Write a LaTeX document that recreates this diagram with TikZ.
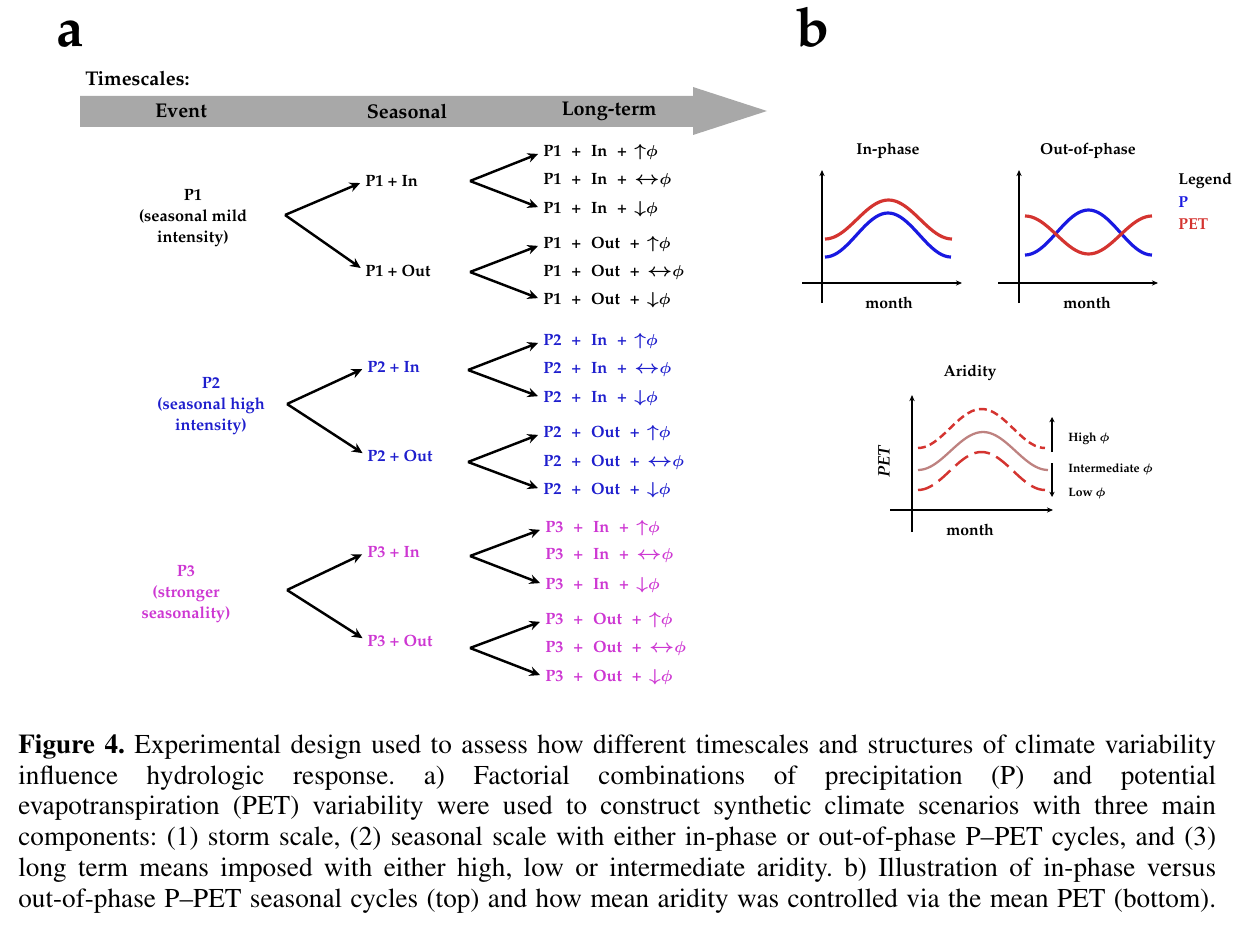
\documentclass[tikz,border=0pt]{standalone}
\usepackage[T1]{fontenc}
\usepackage{amsmath}
\usepackage{graphicx}
\renewcommand{\rmdefault}{ppl}
\usepackage{tikz}
\usetikzlibrary{positioning, arrows.meta}

\definecolor{pblue}{RGB}{30,30,205}
\definecolor{pmag}{RGB}{205,55,210}
\definecolor{petred}{RGB}{212,52,48}
\definecolor{precblue}{RGB}{25,25,225}
\definecolor{midrose}{RGB}{190,130,128}
\definecolor{bargray}{RGB}{168,168,168}

\newcommand{\phisym}{\boldsymbol{\phi}}
\newcommand{\upar}{\mathord{\scalebox{1.25}[1.1]{$\boldsymbol{\uparrow}$}}}
\newcommand{\dnar}{\mathord{\scalebox{1.25}[1.1]{$\boldsymbol{\downarrow}$}}}
\newcommand{\lrar}{\mathord{\scalebox{1.35}[1.15]{$\boldsymbol{\leftrightarrow}$}}}
\newcommand{\ltlab}[3]{#1\hspace{0.6em}+\hspace{0.6em}#2\hspace{0.6em}+\hspace{0.45em}$#3\phisym$}
\newcommand{\bell}[5]{\draw[#1] plot[smooth, domain=0:1, samples=41, variable=\t] ({#2+(#3-#2)*\t},{#4-#5*(1-cos(360*\t))/2});}
\newcommand{\capline}[1]{\hbox to 23.96cm{#1}}

\tikzset{
  panel/.style={font=\fontsize{31}{31}\selectfont\bfseries, inner sep=0pt, anchor=base},
  head/.style={font=\fontsize{11.3}{13}\selectfont\bfseries, inner sep=0pt},
  lab/.style={font=\fontsize{9.3}{12}\selectfont\bfseries, inner sep=0pt},
  event/.style={lab, align=center},
  season/.style={lab, anchor=west},
  longterm/.style={lab, anchor=west},
  branch/.style={-{Stealth[length=6pt,width=5.5pt]}, line width=1.4pt, shorten >=3pt},
  axis/.style={-{Stealth[length=3.5pt,width=3pt]}, line width=0.8pt},
  pcurve/.style={line width=1.8pt},
  plab/.style={font=\fontsize{9}{11}\selectfont\bfseries, inner sep=0pt},
  alab/.style={font=\fontsize{6.9}{8}\selectfont\bfseries, inner sep=0pt, anchor=west},
}

\begin{document}
\begin{tikzpicture}[x=0.02cm, y=-0.02cm]
\useasboundingbox (0,0) rectangle (1234,939);

% Panel labels
\node[panel] (pa) at (70,47) {a};
\node[panel] (pb) at (813,47) {b};

% Timescales bar
\node[head, anchor=west] (tsc) at (85,78) {Timescales:};
\fill[bargray] (80,96) -- (693,96) -- (693,87) -- (767,111) -- (693,135) -- (693,127) -- (80,127) -- cycle;
\node[head] (hev) at (181,111) {Event};
\node[head] (hse) at (407,111) {Seasonal};
\node[head] (hlt) at (609,111) {Long-term};

% P1 group
\node[event] (ev1) at (193,218) {P1\\(seasonal mild\\intensity)};
\coordinate (v1) at (285,215);
\node[season] (s1in) at (365,181) {P1 + In};
\node[season] (s1out) at (365,271) {P1 + Out};
\draw[branch] (v1) -- (s1in.west);
\draw[branch] (v1) -- (s1out.west);
\coordinate (v1in) at (470,181);
\coordinate (v1out) at (470,272);
\node[longterm] (l11) at (543,152) {\ltlab{P1}{In}{\upar}};
\node[longterm] (l12) at (543,181) {\ltlab{P1}{In}{\lrar}};
\node[longterm] (l13) at (543,209) {\ltlab{P1}{In}{\dnar}};
\node[longterm] (l14) at (543,244) {\ltlab{P1}{Out}{\upar}};
\node[longterm] (l15) at (543,272) {\ltlab{P1}{Out}{\lrar}};
\node[longterm] (l16) at (543,300) {\ltlab{P1}{Out}{\dnar}};
\draw[branch] (v1in) -- (l11.west);
\draw[branch] (v1in) -- (l13.west);
\draw[branch] (v1out) -- (l14.west);
\draw[branch] (v1out) -- (l16.west);

% P2 group
\node[event, text=pblue] (ev2) at (211,406) {P2\\(seasonal high\\intensity)};
\coordinate (v2) at (287,404);
\node[season, text=pblue] (s2in) at (367,367) {P2 + In};
\node[season, text=pblue] (s2out) at (367,456) {P2 + Out};
\draw[branch] (v2) -- (s2in.west);
\draw[branch] (v2) -- (s2out.west);
\coordinate (v2in) at (468,370);
\coordinate (v2out) at (468,462);
\node[longterm, text=pblue] (l21) at (543,341) {\ltlab{P2}{In}{\upar}};
\node[longterm, text=pblue] (l22) at (543,370) {\ltlab{P2}{In}{\lrar}};
\node[longterm, text=pblue] (l23) at (543,398) {\ltlab{P2}{In}{\dnar}};
\node[longterm, text=pblue] (l24) at (543,433) {\ltlab{P2}{Out}{\upar}};
\node[longterm, text=pblue] (l25) at (543,462) {\ltlab{P2}{Out}{\lrar}};
\node[longterm, text=pblue] (l26) at (543,490) {\ltlab{P2}{Out}{\dnar}};
\draw[branch] (v2in) -- (l21.west);
\draw[branch] (v2in) -- (l23.west);
\draw[branch] (v2out) -- (l24.west);
\draw[branch] (v2out) -- (l26.west);

% P3 group
\node[event, text=pmag] (ev3) at (186,594) {P3\\(stronger\\seasonality)};
\coordinate (v3) at (287,590);
\node[season, text=pmag] (s3in) at (367,552) {P3 + In};
\node[season, text=pmag] (s3out) at (367,641) {P3 + Out};
\draw[branch] (v3) -- (s3in.west);
\draw[branch] (v3) -- (s3out.west);
\coordinate (v3in) at (470,556);
\coordinate (v3out) at (470,648);
\node[longterm, text=pmag] (l31) at (545,528) {\ltlab{P3}{In}{\upar}};
\node[longterm, text=pmag] (l32) at (545,556) {\ltlab{P3}{In}{\lrar}};
\node[longterm, text=pmag] (l33) at (545,585) {\ltlab{P3}{In}{\dnar}};
\node[longterm, text=pmag] (l34) at (545,620) {\ltlab{P3}{Out}{\upar}};
\node[longterm, text=pmag] (l35) at (545,648) {\ltlab{P3}{Out}{\lrar}};
\node[longterm, text=pmag] (l36) at (545,677) {\ltlab{P3}{Out}{\dnar}};
\draw[branch] (v3in) -- (l31.west);
\draw[branch] (v3in) -- (l33.west);
\draw[branch] (v3out) -- (l34.west);
\draw[branch] (v3out) -- (l36.west);

% In-phase plot
\node[plab] (tin) at (888,151) {In-phase};
\draw[axis] (822,303) -- (822,170);
\draw[axis] (802,283) -- (962,283);
\node[plab] (min) at (889,303) {month};
\bell{pcurve, petred}{825}{952}{239}{39}
\bell{pcurve, precblue}{825}{951}{257}{44}

% Out-of-phase plot
\node[plab] (tout) at (1088,151) {Out-of-phase};
\draw[axis] (1019,303) -- (1019,170);
\draw[axis] (998,283) -- (1158,283);
\node[plab] (mout) at (1087,303) {month};
\bell{pcurve, precblue}{1025}{1152}{255}{45}
\bell{pcurve, petred}{1025}{1152}{216}{-38}

% Legend
\node[plab, anchor=west] (leg) at (1178,181) {Legend};
\node[plab, anchor=west, text=precblue] (legp) at (1178,202) {P};
\node[plab, anchor=west, text=petred] (legpet) at (1178,224) {PET};

% Aridity plot
\node[plab] (tar) at (970,373) {Aridity};
\draw[axis] (912,532) -- (912,395);
\draw[axis] (890,510) -- (1053,510);
\node[plab] (mar) at (970,530) {month};
\node[font=\fontsize{9.5}{11}\selectfont\bfseries\itshape, inner sep=0pt, rotate=90] (pet) at (884,462) {PET};
\bell{line width=1.4pt, petred, dash pattern=on 4.5pt off 2.5pt}{918}{1045}{448}{39}
\bell{line width=1.3pt, midrose}{918}{1048}{470}{38}
\bell{line width=1.4pt, petred, dash pattern=on 9pt off 4pt}{918}{1045}{490}{38}
\draw[-{Stealth[length=3pt,width=3pt]}, line width=0.7pt] (1052,452) -- (1052,417);
\draw[-{Stealth[length=3pt,width=3pt]}, line width=0.7pt] (1052,463) -- (1052,497);
\node[alab] (hi) at (1068,439) {High $\phisym$};
\node[alab] (mi) at (1068,469) {Intermediate $\phisym$};
\node[alab] (lo) at (1068,493) {Low $\phisym$};

% Caption
\node[anchor=north west, inner sep=0pt, text width=23.96cm,
      font=\fontfamily{ptm}\fontsize{15.5}{17.6}\selectfont] (cap) at (18,734) {%
\spaceskip=0pt \xspaceskip=0pt \frenchspacing
\capline{{\bfseries Figure 4.} Experimental design used to assess how different timescales and structures of climate variability}
\capline{influence hydrologic response. a) Factorial combinations of precipitation (P) and potential}
\capline{evapotranspiration (PET) variability were used to construct synthetic climate scenarios with three main}
\capline{components: (1) storm scale, (2) seasonal scale with either in-phase or out-of-phase P--PET cycles, and (3)}
\capline{long term means imposed with either high, low or intermediate aridity. b) Illustration of in-phase versus}
\capline{out-of-phase P--PET seasonal cycles (top) and how mean aridity was controlled via the mean PET (bottom).}};
\end{tikzpicture}
\end{document}
